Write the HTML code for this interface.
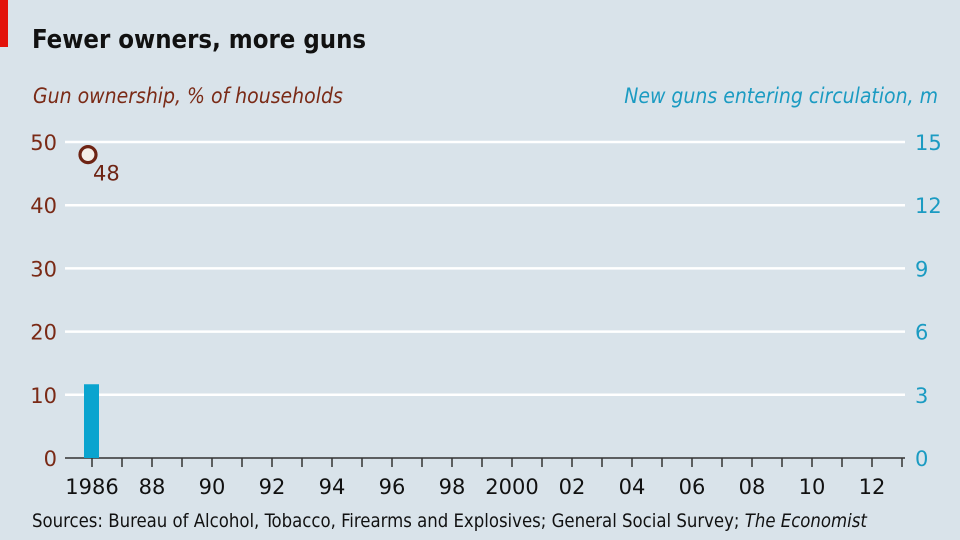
<!DOCTYPE html>
<html><head><meta charset="utf-8"><style>
body{margin:0;background:#d9e3ea;}
svg{display:block;font-family:"DejaVu Sans","Liberation Sans",sans-serif;}
</style></head><body>
<svg id="chart" width="960" height="540" viewBox="0 0 960 540">
<rect width="960" height="540" fill="#d9e3ea"/>
<rect x="0" y="0" width="8" height="47" fill="#e3120b"/>
<text x="32" y="48" font-size="25.5" font-weight="bold" fill="#111" style="font-family:'DejaVu Sans Condensed','DejaVu Sans',sans-serif">Fewer owners, more guns</text>
<text x="33" y="103" font-size="21" font-style="italic" fill="#7a2a16" style="font-family:'DejaVu Sans Condensed','DejaVu Sans',sans-serif">Gun ownership, % of households</text>
<text x="938" y="103" font-size="21" font-style="italic" fill="#1b9bc2" text-anchor="end" style="font-family:'DejaVu Sans Condensed','DejaVu Sans',sans-serif">New guns entering circulation, m</text>
<g id="grid"></g><g id="marks"></g>
<text x="32" y="527" font-size="18.4" fill="#111" style="font-family:'DejaVu Sans Condensed','DejaVu Sans',sans-serif">Sources: Bureau of Alcohol, Tobacco, Firearms and Explosives; General Social Survey; <tspan font-style="italic">The Economist</tspan></text>
</svg>
<script>
const years=[1986];
const ownership=[48];
const newGuns=[3.5];
const leftTicks=[0,10,20,30,40,50];
const rightTicks=[0,3,6,9,12,15];
const xLabels=["1986","88","90","92","94","96","98","2000","02","04","06","08","10","12"];
const NS="http://www.w3.org/2000/svg";
const x=y=>92+(y-1986)*30;
const yL=v=>458-v*6.32;
const yR=v=>458-v*21.07;
function mk(t,a,p){const e=document.createElementNS(NS,t);for(const k in a)e.setAttribute(k,a[k]);p.appendChild(e);return e;}
const g=document.getElementById('grid'),m=document.getElementById('marks');
leftTicks.forEach((v,i)=>{
 if(v>0){const l=mk('line',{x1:65,x2:905,y1:yL(v),y2:yL(v),stroke:'#fff','stroke-width':2.5},g);
 }
 const t=mk('text',{x:57,y:yL(v)+8,'font-size':21,fill:'#7a2a16','text-anchor':'end'},g);t.textContent=v;
 
 const r=mk('text',{x:915,y:yR(rightTicks[i])+8,'font-size':21,fill:'#1b9bc2'},g);r.textContent=rightTicks[i];
 
});
for(let yr=1986;yr<=2013;yr++){const tk=mk('line',{x1:x(yr),x2:x(yr),y1:458,y2:467,stroke:'#333','stroke-width':1.5},g);
 }
xLabels.forEach((s,i)=>{const t=mk('text',{x:x(1986+i*2),y:494,'font-size':21,fill:'#111','text-anchor':'middle'},g);t.textContent=s;
 });
years.forEach((yr,i)=>{
 const b=mk('rect',{x:x(yr)-8,y:yR(newGuns[i]),width:15,height:458-yR(newGuns[i]),fill:'#0aa4cf'},m);
 
 const c=mk('circle',{cx:x(yr)-4,cy:yL(ownership[i]),r:8,fill:'#f3eee8',stroke:'#6e2414','stroke-width':3.2},m);
 
 const t=mk('text',{x:x(yr)+1,y:yL(ownership[i])+26,'font-size':21,fill:'#6e2414'},m);t.textContent=ownership[i];
 
});
const ax=mk('line',{x1:65,x2:905,y1:458,y2:458,stroke:'#333','stroke-width':1.5},g);

</script>
</body></html>
